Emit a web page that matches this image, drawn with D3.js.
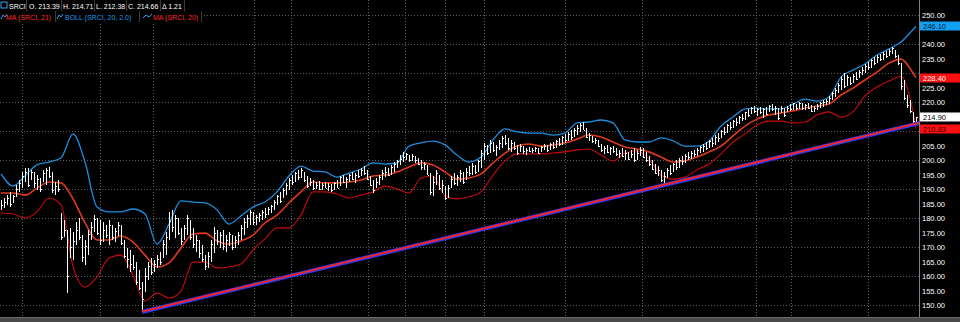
<!DOCTYPE html>
<html><head><meta charset="utf-8">
<script src="https://cdn.jsdelivr.net/npm/d3@7"></script>
<style>html,body{margin:0;padding:0;background:#000;}svg{display:block;}</style>
</head><body>
<svg id="c" width="960" height="322"></svg>
<script>
// ---------------- DATA ----------------
const highs = [
186.2,186.9,188.0,189.0,188.0,191.4,193.1,195.9,197.2,197.2,196.6,195.9,194.8,193.8,196.6,197.2,197.6,195.9,192.4,193.1,
181.7,179.3,175.9,176.6,175.2,178.6,180.0,174.1,172.4,175.9,178.6,181.0,180.0,179.3,
178.6,177.6,179.3,177.6,176.6,178.6,177.6,172.4,169.7,169.0,167.2,164.8,162.1,
157.9,162.8,164.8,166.2,165.5,167.2,168.3,172.4,175.2,182.1,182.8,181.0,180.0,176.6,177.6,181.0,179.3,176.6,174.1,172.4,
170.7,167.2,168.3,172.4,176.9,175.9,175.2,175.9,174.1,175.2,174.1,173.8,175.2,177.6,180.0,181.0,182.8,182.1,181.0,181.7,182.8,183.5,183.8,184.5,186.2,187.9,189.0,190.3,192.1,193.8,194.8,195.9,196.6,
197.2,195.9,194.5,193.8,193.1,192.4,192.8,192.1,192.4,192.1,191.7,192.4,193.1,194.5,194.8,194.1,195.2,195.9,195.5,196.6,197.2,197.9,196.6,194.5,193.1,193.8,194.8,196.6,197.6,197.2,198.3,199.3,200.0,201.7,
202.8,202.4,201.7,202.1,201.4,200.7,200.0,199.3,198.3,195.5,194.5,196.6,194.8,193.1,191.0,191.4,194.5,195.5,194.8,196.6,195.9,197.2,197.9,198.9,198.3,200.0,203.4,205.9,205.2,206.9,206.2,205.2,206.9,
208.3,208.6,207.6,206.9,206.2,205.2,205.5,204.8,204.1,204.5,204.1,204.5,204.1,204.8,205.5,205.2,205.9,206.2,206.9,207.6,208.3,209.0,209.7,210.3,211.0,212.1,212.8,213.1,211.0,209.3,208.3,207.6,206.9,
205.5,204.8,205.2,204.5,204.8,204.1,203.4,204.1,203.4,202.8,203.4,204.1,203.4,204.5,204.1,202.8,201.4,200.0,198.6,197.9,196.6,195.9,197.2,198.3,199.0,200.0,200.7,201.4,202.1,202.8,203.1,203.4,204.1,204.8,
205.5,206.2,206.9,207.6,208.6,209.3,210.3,211.4,212.4,213.1,213.8,214.5,215.2,215.9,216.6,217.6,218.3,218.6,217.9,218.3,217.9,218.3,218.9,219.3,218.6,217.9,218.6,217.9,218.6,219.3,219.7,219.3,220.0,
219.7,219.3,219.7,219.0,218.6,219.3,220.0,220.7,221.0,222.1,223.4,224.8,226.6,229.0,230.0,229.3,228.6,229.7,230.3,231.0,232.1,233.1,233.8,234.8,235.5,236.2,236.6,237.2,237.6,238.3,239.0,237.9,236.2,233.4,227.6,222.4,220.7,216.5,214.71
];
const lows = [
182.8,183.5,184.5,183.8,185.2,187.2,189.0,190.3,192.4,190.7,193.1,190.3,189.7,189.0,192.4,191.4,193.8,188.6,187.9,189.0,
172.4,173.4,154.1,166.2,165.5,170.7,172.4,164.8,163.8,167.3,172.4,175.2,174.1,170.7,
171.7,173.1,170.7,172.4,171.7,173.8,170.7,166.2,162.8,161.4,162.1,156.9,155.2,
147.9,154.5,158.6,160.3,161.4,162.8,163.8,166.2,167.3,172.4,175.2,173.1,174.1,170.7,172.4,174.1,172.4,169.7,168.3,166.2,
164.8,162.1,162.8,164.8,167.9,170.7,169.7,169.0,168.3,170.3,169.0,169.7,170.7,172.4,174.1,176.6,177.6,177.6,177.6,178.6,179.3,180.0,181.0,181.7,182.8,184.5,185.2,186.9,187.9,189.7,191.4,192.4,193.1,
193.8,192.4,190.3,191.0,189.7,190.0,189.7,189.7,190.3,189.3,189.0,189.7,190.3,191.0,192.1,190.3,192.4,193.1,192.1,193.8,194.5,194.8,193.1,191.0,188.6,190.3,191.4,193.1,194.1,194.5,194.8,195.9,197.2,198.3,
199.3,200.0,199.3,199.7,199.0,198.3,196.6,196.6,194.8,187.9,187.6,191.4,189.7,188.6,186.2,186.9,190.3,191.4,191.0,192.4,191.7,193.1,194.5,194.8,195.2,195.9,197.2,200.0,201.7,202.4,202.8,201.4,203.4,
204.1,205.2,203.4,202.8,203.4,201.7,202.8,202.1,201.7,202.8,202.4,202.8,202.1,202.8,203.4,202.8,203.4,203.8,204.1,204.8,205.2,205.9,206.6,206.9,207.9,208.6,209.7,210.3,207.6,206.6,205.9,205.5,204.5,
202.8,202.1,202.4,201.7,202.4,201.4,200.7,201.0,200.0,200.0,200.7,199.3,200.0,201.4,200.7,199.3,197.9,196.6,195.2,194.5,192.4,192.1,193.8,194.8,195.9,196.6,197.2,198.3,199.0,200.0,200.3,201.0,201.4,202.4,
202.8,203.4,204.1,204.5,205.2,206.2,207.6,208.6,209.3,210.3,211.0,211.7,212.4,213.5,213.8,214.8,215.9,216.2,215.2,215.9,214.5,215.5,216.6,216.9,215.5,213.8,216.2,214.8,216.6,216.9,217.2,217.2,217.6,
217.2,217.2,217.6,216.6,216.6,217.2,217.9,218.3,219.0,219.3,220.7,221.7,223.1,224.1,224.8,225.5,225.9,226.6,227.6,228.3,229.3,230.0,231.0,231.7,232.8,233.4,234.1,234.5,235.2,235.9,236.6,235.2,232.8,224.1,220.7,217.9,216.2,212.8,212.38
];
const closes = [
184.5,185.5,187.0,185.0,187.5,190.0,192.0,194.5,196.0,191.5,195.8,192.0,193.5,190.0,195.5,196.5,194.5,189.5,191.0,190.0,
173.5,176.0,160.0,170.0,172.0,176.0,173.5,166.5,170.5,174.5,177.0,179.5,175.0,172.5,
176.0,174.0,177.5,173.5,175.5,177.5,171.5,167.0,166.0,164.0,163.0,158.0,156.0,
152.0,160.0,163.5,161.5,164.0,166.0,165.0,171.0,173.5,179.0,177.0,180.0,175.0,172.0,176.5,180.0,173.5,171.0,172.5,168.0,
166.0,163.5,167.0,171.0,175.0,172.0,174.0,170.5,172.5,174.5,170.0,172.5,174.0,176.5,178.5,180.0,182.0,178.5,180.5,181.0,182.0,181.5,183.0,184.0,185.5,187.5,186.0,189.5,191.5,193.0,192.5,195.5,194.0,
196.5,193.0,191.0,192.5,190.5,191.5,190.0,191.5,190.5,191.0,189.5,192.0,190.5,194.0,192.5,193.5,195.0,193.5,195.0,194.5,196.5,195.5,193.5,191.5,189.5,192.5,194.0,195.5,196.0,195.0,197.5,198.5,199.5,200.5,
201.0,202.0,200.0,201.5,200.0,198.5,197.5,198.5,195.0,189.0,192.5,195.5,190.5,191.5,187.0,190.5,193.5,192.0,194.0,195.5,192.5,196.0,195.5,198.0,196.0,199.5,202.5,205.0,202.5,206.0,203.5,204.5,206.0,
207.5,206.0,204.0,206.0,204.0,202.5,205.0,203.0,203.5,203.0,203.5,204.0,202.5,204.5,205.0,203.5,205.5,204.5,206.5,205.5,208.0,207.0,209.0,208.0,210.5,211.0,212.0,210.5,208.0,208.5,206.5,207.0,205.0,
203.5,204.0,202.8,204.0,203.0,202.0,202.5,201.5,202.5,200.5,202.0,200.0,202.5,203.5,201.0,200.0,198.5,197.0,195.5,196.5,193.0,194.5,196.5,195.5,198.5,197.5,200.0,199.5,201.5,201.0,202.5,202.0,203.5,204.5,
205.0,204.0,206.5,206.0,208.0,207.5,210.0,209.5,212.0,211.5,213.5,213.0,215.0,214.5,216.5,215.5,218.0,216.8,217.5,216.5,217.5,216.0,218.5,217.5,218.0,214.5,218.0,215.5,218.0,217.5,219.5,218.0,219.5,
218.0,219.0,218.0,217.0,218.0,218.5,219.5,220.0,220.5,221.5,223.0,224.0,226.0,228.0,225.5,228.5,226.5,229.0,228.0,230.5,231.0,232.5,232.0,234.5,233.5,235.5,235.0,236.5,236.0,237.5,238.5,235.8,233.5,225.5,221.5,219.0,217.0,213.45,214.66
];
// indicator readings, one value every 4th bar (plus the last bar)
const bandIdx = d3.range(0, 305, 4).concat([305]);
const upperBand = [195.2,191.0,194.5,198.3,199.3,200.7,209.0,199.3,183.8,182.1,182.1,183.1,181.4,171.0,177.9,185.9,185.5,185.2,182.8,177.9,180.7,183.8,185.5,189.0,194.5,197.9,196.2,195.9,194.1,195.5,196.9,199.0,198.6,199.0,204.8,205.9,206.5,205.2,201.7,199.3,201.0,206.9,210.7,209.7,209.3,209.3,208.6,209.3,212.8,213.1,213.8,212.8,206.9,206.2,206.2,207.6,206.6,204.8,204.8,206.5,211.7,214.8,217.6,217.9,217.6,217.6,219.3,221.0,220.3,221.7,228.6,231.0,233.1,236.2,238.3,240.7,245.0,246.1];
const midLine = [188.6,188.6,187.9,190.3,192.4,192.1,186.6,178.3,172.4,172.4,173.8,171.7,167.2,163.1,164.5,169.7,174.5,174.8,172.1,171.0,172.1,174.1,178.3,181.0,185.2,189.0,192.4,192.1,192.1,192.4,193.1,194.5,194.8,195.9,197.6,199.0,198.3,195.9,193.4,193.8,195.2,199.0,202.4,204.8,205.5,204.8,205.2,205.9,207.2,208.6,207.9,206.2,204.5,203.8,202.8,201.0,199.3,199.7,201.0,202.8,204.8,208.3,211.7,214.1,215.5,216.2,216.9,217.9,218.6,219.3,222.4,224.8,227.6,230.3,233.4,234.8,230.0,228.4];
const lowerBand = [181.7,181.4,180.0,182.1,186.9,184.5,163.4,156.2,159.7,166.2,167.2,160.3,151.4,154.1,152.4,154.8,164.8,164.8,162.8,163.1,164.1,169.0,172.8,176.6,176.6,181.0,189.0,189.0,188.3,186.9,187.9,189.0,191.0,190.0,188.6,193.8,194.5,187.6,186.6,187.3,189.0,194.8,199.7,202.1,202.1,202.1,202.4,202.8,203.5,203.8,201.7,199.7,202.4,203.1,200.3,194.8,193.4,194.1,196.6,198.6,202.1,206.2,209.0,212.1,213.4,213.4,212.8,213.1,215.5,216.6,214.8,216.6,222.1,225.2,227.2,228.9,216.6,210.83];
const trendIdx = [47, 306];
const trendVals = [147.6, 212.7];
// axis tick labels (those hidden under the last-value boxes are left out)
const yTicks = [250,240,235,225,220,205,200,195,190,185,180,175,170,165,160,155,150];
const gridVals = [250,240,230,220,210,200,190,180,170,160,150];
const monthBreaks = [7, 33, 50.7, 84.3, 96.7, 122.3, 134.7, 148, 161, 188, 213.7, 251.7, 263.3, 289];
const headerFields = ["SRCI","O. 213.39","H. 214.71","L. 212.38","C. 214.66","\u0394 1.21"];
const legendItems = ["MA (SRCI, 21)","BOLL (SRCI, 20, 2.0)","MA (SRCI, 20)"];
const lastLabels = [
  {v:246.10, bg:"#14a0f0", fg:"#001830"},
  {v:228.40, bg:"#ff1010", fg:"#ffffff"},
  {v:214.90, bg:"#ffffff", fg:"#000000"},
  {v:210.83, bg:"#ff1010", fg:"#300000"}
];

// ---------------- CHART ----------------
const W = 960, H = 322, plotR = 919, plotB = 316;
const svg = d3.select("#c");
const x = d3.scaleLinear().domain([0, 305]).range([1, 916]);
const y = d3.scaleLinear().domain([150, 250]).range([305, 15]);
const FONT = "'Liberation Sans', Arial, sans-serif";

svg.append("rect").attr("width", W).attr("height", H).attr("fill", "#000");

svg.append("defs").append("clipPath").attr("id", "plot")
  .append("rect").attr("x", 0).attr("y", 0).attr("width", plotR).attr("height", plotB);

// grid
const grid = svg.append("g").attr("shape-rendering", "crispEdges");
grid.selectAll("line.h").data(gridVals).join("line").attr("class", "h")
  .attr("x1", 0).attr("x2", plotR)
  .attr("y1", d => Math.round(y(d)) + 0.5).attr("y2", d => Math.round(y(d)) + 0.5)
  .attr("stroke", "#5c5c5c").attr("stroke-dasharray", "1,2");
grid.selectAll("line.v").data(monthBreaks).join("line").attr("class", "v")
  .attr("x1", d => Math.round(x(d)) + 0.5).attr("x2", d => Math.round(x(d)) + 0.5)
  .attr("y1", 0).attr("y2", plotB)
  .attr("stroke", "#5c5c5c").attr("stroke-dasharray", "1,2");

const plot = svg.append("g").attr("clip-path", "url(#plot)");

// bands
const lineGen = arr => d3.line()
  .x((d, k) => x(bandIdx[k])).y(d => y(d))
  .curve(d3.curveMonotoneX)(arr);
plot.append("path").attr("d", lineGen(lowerBand)).attr("fill", "none")
  .attr("stroke", "#c80a0a").attr("stroke-width", 1.1);
plot.append("path").attr("d", lineGen(upperBand)).attr("fill", "none")
  .attr("stroke", "#1a8fe0").attr("stroke-width", 1.3);
plot.append("path").attr("d", lineGen(midLine)).attr("fill", "none")
  .attr("stroke", "#e2381a").attr("stroke-width", 1.6);

// bars
const bars = plot.append("g").attr("shape-rendering", "crispEdges").attr("stroke", "#ffffff");
const idx = d3.range(highs.length);
bars.selectAll("line.hl").data(idx).join("line").attr("class", "hl")
  .attr("x1", i => Math.round(x(i)) + 0.5).attr("x2", i => Math.round(x(i)) + 0.5)
  .attr("y1", i => y(highs[i])).attr("y2", i => y(lows[i]));
bars.selectAll("line.c").data(idx).join("line").attr("class", "c")
  .attr("x1", i => Math.round(x(i)) + 1).attr("x2", i => Math.round(x(i)) + 2)
  .attr("y1", i => Math.round(y(closes[i])) + 0.5).attr("y2", i => Math.round(y(closes[i])) + 0.5);

// trend line
const tl = d3.line().x((d, k) => x(trendIdx[k])).y(d => y(d));
plot.append("path").attr("d", tl(trendVals)).attr("stroke", "#2c3cf0").attr("stroke-width", 4).attr("fill", "none");
plot.append("path").attr("d", tl(trendVals)).attr("stroke", "#ff2020").attr("stroke-width", 1.8).attr("fill", "none")
  .attr("transform", "translate(0,-0.3)");

// right axis
svg.append("line").attr("x1", plotR + 0.5).attr("x2", plotR + 0.5).attr("y1", 0).attr("y2", plotB + 1)
  .attr("stroke", "#808080").attr("shape-rendering", "crispEdges");
const axis = d3.axisRight(y).tickValues(yTicks).tickFormat(d3.format(".2f")).tickSize(0).tickPadding(3);
const gA = svg.append("g").attr("transform", `translate(${plotR},0)`).call(axis);
gA.select(".domain").remove();
gA.selectAll("text").attr("fill", "#ffffff").attr("font-family", FONT).attr("font-size", 8)
  .attr("textLength", 23).attr("lengthAdjust", "spacingAndGlyphs");

// last value labels
const lb = svg.append("g").selectAll("g").data(lastLabels).join("g")
  .attr("transform", d => `translate(${plotR + 1},${Math.round(y(d.v))})`);
lb.append("rect").attr("x", 0).attr("y", -4.5).attr("width", 41).attr("height", 9).attr("fill", d => d.bg);
lb.append("text").attr("x", 3).attr("y", 3).text(d => d.v.toFixed(2))
  .attr("fill", d => d.fg).attr("font-family", FONT).attr("font-size", 8)
  .attr("textLength", 23).attr("lengthAdjust", "spacingAndGlyphs");

// bottom bar
svg.append("rect").attr("x", 0).attr("y", 317).attr("width", W).attr("height", 5).attr("fill", "#4a4a4a");
svg.append("rect").attr("x", 0).attr("y", 317).attr("width", W).attr("height", 1).attr("fill", "#6a6a6a");

// header
const hd = svg.append("g").attr("font-family", FONT).attr("font-size", 7);
hd.append("rect").attr("x", 0).attr("y", 0).attr("width", 185).attr("height", 11).attr("fill", "#000");
hd.append("rect").attr("x", 0).attr("y", 11).attr("width", 203).attr("height", 11).attr("fill", "#000");
const hx = [9, 29, 63, 96, 128, 162];
hd.selectAll("text.r1").data(headerFields).join("text").attr("class", "r1")
  .attr("x", (d, k) => hx[k]).attr("y", 8.5).attr("fill", "#ffffff").text(d => d);
const sep1 = [26.5, 61.5, 94.5, 126.5, 160.5, 184.5];
hd.selectAll("line.s1").data(sep1).join("line").attr("class", "s1")
  .attr("x1", d => d).attr("x2", d => d).attr("y1", 0).attr("y2", 11).attr("stroke", "#3c3c3c");
const lx = [6, 65, 153], lc = ["#ff2a2a", "#1a9ce6", "#ff2a2a"];
hd.selectAll("text.r2").data(legendItems).join("text").attr("class", "r2")
  .attr("x", (d, k) => lx[k]).attr("y", 19.5).attr("fill", (d, k) => lc[k]).text(d => d);
const sep2 = [55.5, 139.5, 201.5];
hd.selectAll("line.s2").data(sep2).join("line").attr("class", "s2")
  .attr("x1", d => d).attr("x2", d => d).attr("y1", 11).attr("y2", 22).attr("stroke", "#3c3c3c");
// small icons
hd.append("rect").attr("x", 1).attr("y", 2).attr("width", 6).attr("height", 6).attr("fill", "none").attr("stroke", "#3aa0e8");
hd.append("path").attr("d", "M1,19 L3,15 L5,17 L7,14").attr("stroke", "#3aa0e8").attr("fill", "none");
hd.append("path").attr("d", "M57,19 L59,15 L61,17 L63,14").attr("stroke", "#3aa0e8").attr("fill", "none");
hd.append("path").attr("d", "M143,18 L146,15 L149,17 L152,14").attr("stroke", "#3aa0e8").attr("fill", "none");
</script>
</body></html>
